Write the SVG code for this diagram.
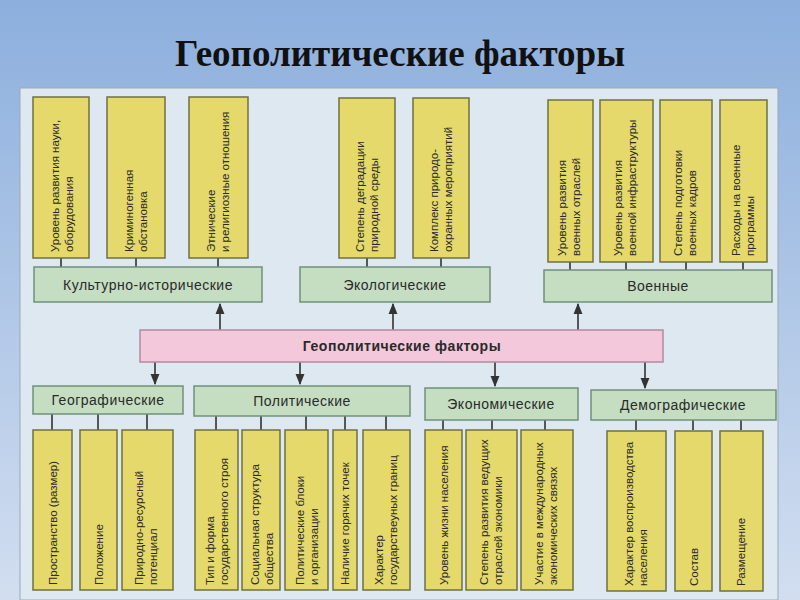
<svg xmlns="http://www.w3.org/2000/svg" width="800" height="600" viewBox="0 0 800 600">
<defs>
<linearGradient id="bg" x1="0" y1="0" x2="0" y2="1"><stop offset="0" stop-color="#8cafdd"/><stop offset="1" stop-color="#d2def0"/></linearGradient>
<marker id="ar" viewBox="0 0 10 10" refX="9" refY="5" markerWidth="7" markerHeight="7" orient="auto"><path d="M0,1 L10,5 L0,9 z" fill="#333"/></marker>
</defs>
<style>
.y{fill:#e4d96a;stroke:#707040;stroke-width:1.5}
.g{fill:#c5dec2;stroke:#6e9079;stroke-width:1.5}
.p{fill:#f3c8da;stroke:#b38aa0;stroke-width:1.5}
.t{font-family:"Liberation Sans",Arial,sans-serif;font-size:11.5px;fill:#2a2a2a}
.c{font-family:"Liberation Sans",Arial,sans-serif;font-size:14px;fill:#2a2a2a;text-anchor:middle;letter-spacing:0.5px}
.k{stroke:#333;stroke-width:1.6;fill:none}
</style>
<rect width="800" height="600" fill="url(#bg)"/>
<rect x="20" y="88" width="758" height="512" fill="#dde8f1" stroke="#9aa9b8"/>
<text x="400" y="66" text-anchor="middle" font-family="Liberation Serif,serif" font-weight="bold" font-size="37" fill="#111">Геополитические факторы</text>
<g id="connectors" class="k">
<path d="M61,258V267M136,258V267M218,258V267M367,258V267M441,258V267M570,262V270M626,262V270M686,262V270M743,262V270"/>
<path d="M220,330V304" marker-end="url(#ar)"/><path d="M393,330V304" marker-end="url(#ar)"/><path d="M578,330V304" marker-end="url(#ar)"/>
<path d="M155,362V384" marker-end="url(#ar)"/><path d="M300,362V384" marker-end="url(#ar)"/><path d="M495,362V386" marker-end="url(#ar)"/><path d="M645,362V388" marker-end="url(#ar)"/>
<path d="M52,414V430M98,414V430M147,414V430M216,416V430M261,416V430M306,416V430M345,416V430M386,416V430M443,420V430M492,420V430M545,420V430M636,420V430M693,420V430M741,420V430"/>
</g>
<g id="center"><rect class="p" x="140" y="330" width="523" height="32"/><text class="c" x="402" y="351" font-weight="bold">Геополитические факторы</text></g>
<g id="cat-kult"><rect class="g" x="34" y="267" width="228" height="35"/><text class="c" x="148" y="290">Культурно-исторические</text></g>
<g id="cat-eco"><rect class="g" x="300" y="267" width="190" height="35"/><text class="c" x="395" y="290">Экологические</text></g>
<g id="cat-mil"><rect class="g" x="544" y="270" width="228" height="32"/><text class="c" x="658" y="291">Военные</text></g>
<g id="cat-geo"><rect class="g" x="33" y="386" width="150" height="28"/><text class="c" x="108" y="405">Географические</text></g>
<g id="cat-pol"><rect class="g" x="194" y="386" width="216" height="30"/><text class="c" x="302" y="406">Политические</text></g>
<g id="cat-econ"><rect class="g" x="425" y="388" width="153" height="32"/><text class="c" x="501" y="409">Экономические</text></g>
<g id="cat-dem"><rect class="g" x="591" y="390" width="185" height="30"/><text class="c" x="683" y="410">Демографические</text></g>

<g id="n1"><rect class="y" x="33" y="97" width="56" height="161"/><text class="t" transform="translate(59,252) rotate(-90)">Уровень развития науки,</text><text class="t" transform="translate(73,252) rotate(-90)">оборудования</text></g>
<g id="n2"><rect class="y" x="107" y="97" width="58" height="161"/><text class="t" transform="translate(133,252) rotate(-90)">Криминогенная</text><text class="t" transform="translate(147,252) rotate(-90)">обстановка</text></g>
<g id="n3"><rect class="y" x="189" y="97" width="59" height="161"/><text class="t" transform="translate(215,252) rotate(-90)">Этнические</text><text class="t" transform="translate(229,252) rotate(-90)">и религиозные отношения</text></g>
<g id="n4"><rect class="y" x="339" y="98" width="56" height="160"/><text class="t" transform="translate(364,252) rotate(-90)">Степень деградации</text><text class="t" transform="translate(378,252) rotate(-90)">природной среды</text></g>
<g id="n5"><rect class="y" x="413" y="98" width="56" height="160"/><text class="t" transform="translate(438,252) rotate(-90)">Комплекс природо-</text><text class="t" transform="translate(452,252) rotate(-90)">охранных мероприятий</text></g>
<g id="n6"><rect class="y" x="548" y="100" width="45" height="162"/><text class="t" transform="translate(566,256) rotate(-90)">Уровень развития</text><text class="t" transform="translate(580,256) rotate(-90)">военных отраслей</text></g>
<g id="n7"><rect class="y" x="600" y="100" width="53" height="162"/><text class="t" transform="translate(622,256) rotate(-90)">Уровень развития</text><text class="t" transform="translate(636,256) rotate(-90)">военной инфраструктуры</text></g>
<g id="n8"><rect class="y" x="660" y="100" width="52" height="162"/><text class="t" transform="translate(682,256) rotate(-90)">Степень подготовки</text><text class="t" transform="translate(696,256) rotate(-90)">военных кадров</text></g>
<g id="n9"><rect class="y" x="720" y="100" width="47" height="162"/><text class="t" transform="translate(740,256) rotate(-90)">Расходы на военные</text><text class="t" transform="translate(754,256) rotate(-90)">программы</text></g>

<g id="b1"><rect class="y" x="33" y="430" width="39" height="160"/><text class="t" transform="translate(57,585) rotate(-90)">Пространство (размер)</text></g>
<g id="b2"><rect class="y" x="80" y="430" width="37" height="160"/><text class="t" transform="translate(103,585) rotate(-90)">Положение</text></g>
<g id="b3"><rect class="y" x="122" y="430" width="51" height="160"/><text class="t" transform="translate(143,585) rotate(-90)">Природно-ресурсный</text><text class="t" transform="translate(157,585) rotate(-90)">потенциал</text></g>
<g id="b4"><rect class="y" x="195" y="430" width="43" height="160"/><text class="t" transform="translate(214,585) rotate(-90)">Тип и форма</text><text class="t" transform="translate(228,585) rotate(-90)">государственного строя</text></g>
<g id="b5"><rect class="y" x="242" y="430" width="38" height="160"/><text class="t" transform="translate(259,585) rotate(-90)">Социальная структура</text><text class="t" transform="translate(273,585) rotate(-90)">общества</text></g>
<g id="b6"><rect class="y" x="285" y="430" width="43" height="160"/><text class="t" transform="translate(304,585) rotate(-90)">Политические блоки</text><text class="t" transform="translate(318,585) rotate(-90)">и организации</text></g>
<g id="b7"><rect class="y" x="333" y="430" width="24" height="160"/><text class="t" transform="translate(349,585) rotate(-90)">Наличие горячих точек</text></g>
<g id="b8"><rect class="y" x="363" y="430" width="47" height="160"/><text class="t" transform="translate(383,585) rotate(-90)">Характер</text><text class="t" transform="translate(397,585) rotate(-90)">государствеуных границ</text></g>
<g id="b9"><rect class="y" x="425" y="430" width="37" height="160"/><text class="t" transform="translate(448,585) rotate(-90)">Уровень жизни населения</text></g>
<g id="b10"><rect class="y" x="466" y="430" width="51" height="160"/><text class="t" transform="translate(488,585) rotate(-90)">Степень развития ведущих</text><text class="t" transform="translate(502,585) rotate(-90)">отраслей экономики</text></g>
<g id="b11"><rect class="y" x="521" y="430" width="52" height="160"/><text class="t" transform="translate(543,585) rotate(-90)">Участие в международных</text><text class="t" transform="translate(557,585) rotate(-90)">экономических связях</text></g>
<g id="b12"><rect class="y" x="607" y="431" width="59" height="160"/><text class="t" transform="translate(633,586) rotate(-90)">Характер воспроизводства</text><text class="t" transform="translate(647,586) rotate(-90)">населения</text></g>
<g id="b13"><rect class="y" x="675" y="431" width="37" height="160"/><text class="t" transform="translate(698,586) rotate(-90)">Состав</text></g>
<g id="b14"><rect class="y" x="720" y="431" width="43" height="160"/><text class="t" transform="translate(745,586) rotate(-90)">Размещение</text></g>
</svg>
